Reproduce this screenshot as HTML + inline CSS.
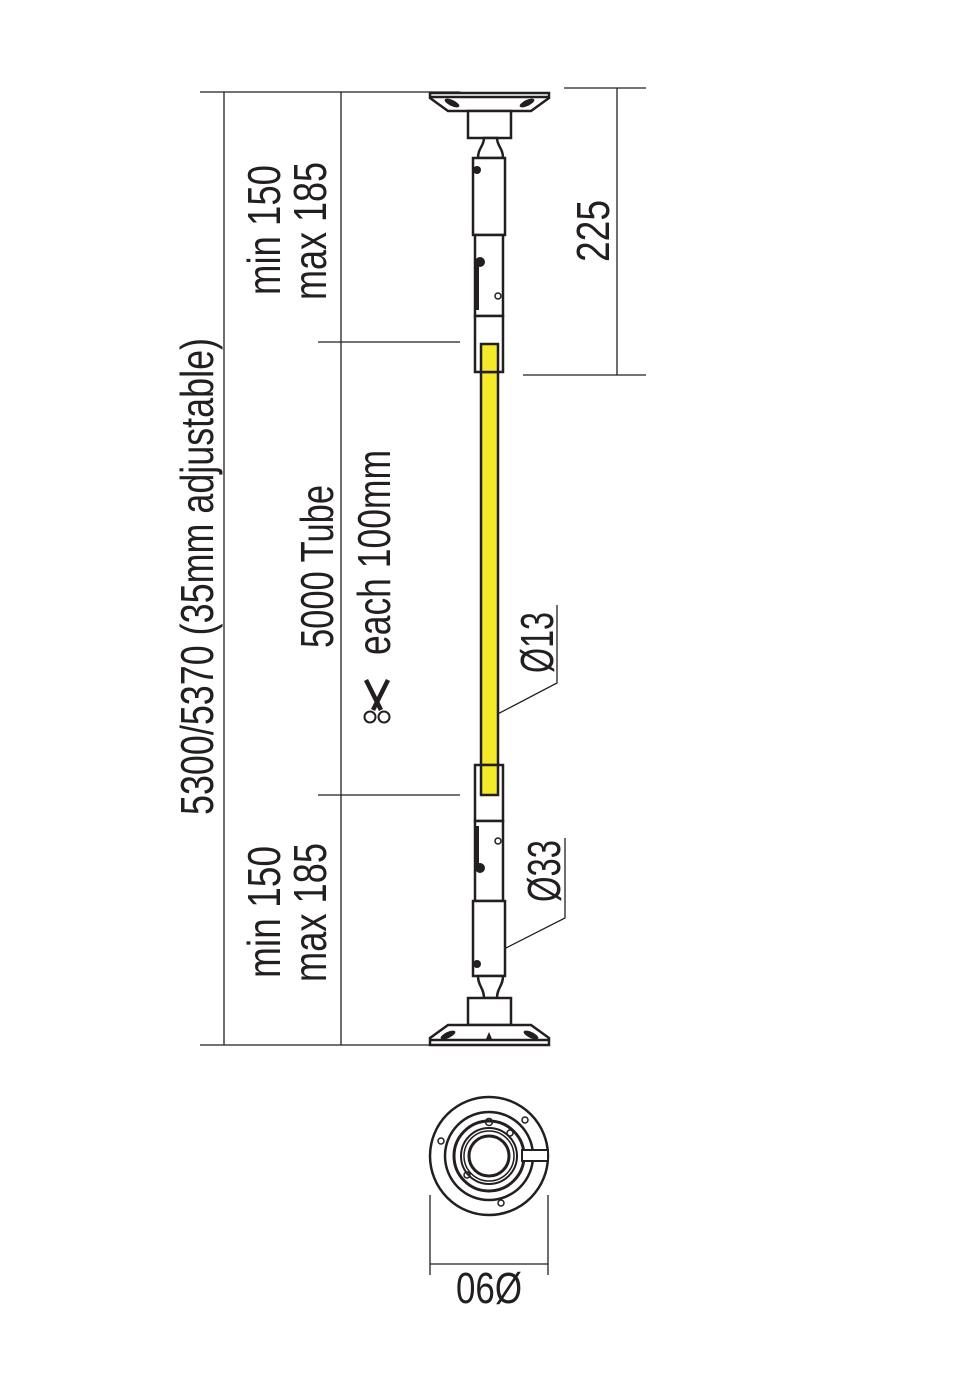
<!DOCTYPE html>
<html><head><meta charset="utf-8"><style>html,body{margin:0;padding:0;background:#fff}svg{display:block}</style></head>
<body>
<svg width="980" height="1400" viewBox="0 0 980 1400" xmlns="http://www.w3.org/2000/svg" font-family="Liberation Sans, sans-serif" fill="#231f20">
<g stroke="#231f20" stroke-width="1.3" fill="none">
<line x1="224" y1="92" x2="224" y2="1045"/>
<line x1="341" y1="92" x2="341" y2="1045"/>
<line x1="200" y1="92" x2="460" y2="92"/>
<line x1="200" y1="1045" x2="432" y2="1045"/>
<line x1="318" y1="342" x2="460" y2="342"/>
<line x1="318" y1="795" x2="460" y2="795"/>
<line x1="617" y1="88" x2="617" y2="375"/>
<line x1="564" y1="88" x2="646" y2="88"/>
<line x1="523" y1="375" x2="646" y2="375"/>
<polyline points="557,605 557,683 490,718"/>
<polyline points="565,838 565,918 498,952"/>
<line x1="430" y1="1195" x2="430" y2="1275"/>
<line x1="548" y1="1195" x2="548" y2="1275"/>
<line x1="430" y1="1264" x2="548" y2="1264"/>
</g>
<g stroke="#231f20" stroke-width="2.5" fill="#fff">
<rect x="481" y="360" width="17" height="420" fill="#f4ea2a"/>
<polygon points="430,93 549,93 549,98 531,111 448,111 430,98"/>
<line x1="430" y1="97" x2="549" y2="97"/>
<rect x="468" y="111" width="43" height="27"/>
<path d="M478,158 C478,148 484,146 484,138 L497,138 C497,146 503,148 503,158 Z"/>
<rect x="473" y="158" width="32" height="77"/>
<rect x="475" y="235" width="28" height="81"/>
<rect x="475" y="316" width="28" height="56"/>
<rect x="481" y="344" width="17" height="28" fill="#f4ea2a"/>
<rect x="475" y="765" width="28" height="56"/>
<rect x="481" y="765" width="17" height="30" fill="#f4ea2a"/>
<rect x="475" y="821" width="28" height="80"/>
<rect x="473" y="901" width="32" height="75"/>
<path d="M478,976 C478,986 484,988 484,998 L497,998 C497,988 503,986 503,976 Z"/>
<rect x="468" y="998" width="43" height="27"/>
<polygon points="448,1025 531,1025 549,1038 549,1045 430,1045 430,1038"/>
<line x1="430" y1="1040" x2="549" y2="1040"/>
</g>
<g fill="#231f20">
<circle cx="480" cy="262" r="5"/><circle cx="480" cy="868" r="5"/>
<circle cx="477" cy="170" r="4"/><circle cx="477" cy="964" r="4"/>
<rect x="476" y="265" width="3" height="45"/><rect x="476" y="826" width="3" height="45"/>
<ellipse cx="452" cy="103" rx="8" ry="3" transform="rotate(25 452 103)"/>
<ellipse cx="527" cy="103" rx="8" ry="3" transform="rotate(-25 527 103)"/>
<ellipse cx="448" cy="1035" rx="8" ry="3" transform="rotate(-25 448 1035)"/>
<ellipse cx="531" cy="1035" rx="8" ry="3" transform="rotate(25 531 1035)"/>
<polygon points="486,1039 489,1032 492,1039"/>
</g>
<g fill="none" stroke="#231f20" stroke-width="1.5">
<circle cx="498" cy="296" r="3"/><circle cx="498" cy="841" r="3"/>
</g>
<g fill="none" stroke="#231f20">
<circle cx="489" cy="1156" r="59" stroke-width="2.5"/>
<circle cx="489" cy="1156" r="44" stroke-width="2.5"/>
<circle cx="489" cy="1156" r="35" stroke-width="3"/>
<circle cx="489" cy="1156" r="28" stroke-width="2"/>
<circle cx="489" cy="1156" r="25" stroke-width="1.5"/>
<circle cx="489" cy="1156" r="20" stroke-width="3"/>
<circle cx="441" cy="1141" r="3" stroke-width="1.5"/>
<circle cx="525" cy="1120" r="3" stroke-width="1.5"/>
<circle cx="510" cy="1133" r="3" stroke-width="1.5"/>
<circle cx="489" cy="1122" r="3.5" stroke-width="1.5"/>
<circle cx="467" cy="1175" r="3" stroke-width="1.5"/>
<circle cx="501" cy="1203" r="3" stroke-width="1.5"/>
</g>
<rect x="522" y="1150" width="26" height="11" fill="#fff" stroke="#231f20" stroke-width="2"/>
<g font-size="46">
<text transform="translate(213,815) rotate(-90)" textLength="477" lengthAdjust="spacingAndGlyphs">5300/5370 (35mm adjustable)</text>
<text transform="translate(280,295) rotate(-90)" textLength="130" lengthAdjust="spacingAndGlyphs">min 150</text>
<text transform="translate(326,300) rotate(-90)" textLength="138" lengthAdjust="spacingAndGlyphs">max 185</text>
<text transform="translate(280,978) rotate(-90)" textLength="132" lengthAdjust="spacingAndGlyphs">min 150</text>
<text transform="translate(326,982) rotate(-90)" textLength="139" lengthAdjust="spacingAndGlyphs">max 185</text>
<text transform="translate(333,648) rotate(-90)" textLength="163" lengthAdjust="spacingAndGlyphs">5000 Tube</text>
<text transform="translate(390,655) rotate(-90)" textLength="205" lengthAdjust="spacingAndGlyphs">each 100mm</text>
<text transform="translate(553,673) rotate(-90)" textLength="61" lengthAdjust="spacingAndGlyphs">Ø13</text>
<text transform="translate(560,902) rotate(-90)" textLength="62" lengthAdjust="spacingAndGlyphs">Ø33</text>
<text transform="translate(609,262) rotate(-90)" textLength="62" lengthAdjust="spacingAndGlyphs">225</text>
<text x="456" y="1303" font-size="44" textLength="66" lengthAdjust="spacingAndGlyphs">06Ø</text>
</g>
<g transform="translate(377,700)">
<path d="M-11,-20 L4,10 M11,-20 L-4,10" stroke="#231f20" stroke-width="4.5" fill="none"/>
<circle cx="-7" cy="17" r="5.5" fill="#fff" stroke="#231f20" stroke-width="2"/>
<circle cx="7" cy="17" r="5.5" fill="#fff" stroke="#231f20" stroke-width="2"/>
</g>
</svg>
</body></html>
